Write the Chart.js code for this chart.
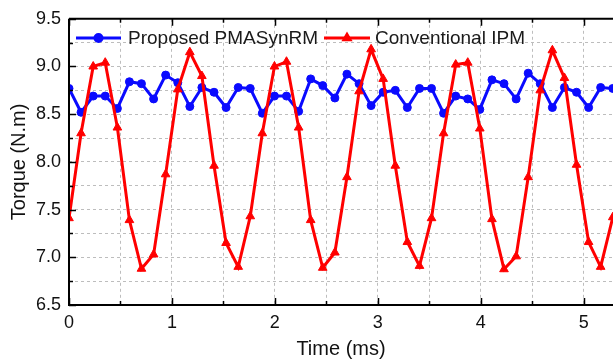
<!DOCTYPE html>
<html>
<head>
<meta charset="utf-8">
<script src="https://cdn.jsdelivr.net/npm/chart.js@4/dist/chart.umd.min.js"></script>
<style>
html,body{margin:0;padding:0;background:#fff;}
#wrap{width:613px;height:362px;}
</style>
</head>
<body>
<div id="wrap"><canvas id="c" width="613" height="362"></canvas></div>
<script>
const timeMs = [0, 0.117, 0.235, 0.352, 0.470, 0.587, 0.704, 0.822, 0.939, 1.057,
  1.174, 1.291, 1.409, 1.526, 1.644, 1.761, 1.878, 1.996, 2.113, 2.231,
  2.348, 2.465, 2.583, 2.700, 2.818, 2.935, 3.052, 3.170, 3.287, 3.405,
  3.522, 3.639, 3.757, 3.874, 3.991, 4.109, 4.226, 4.344, 4.461, 4.578,
  4.696, 4.813, 4.931, 5.048, 5.165, 5.283];
const pmasynrm = [8.77, 8.52, 8.69, 8.69, 8.56, 8.84, 8.82, 8.66, 8.91, 8.83,
  8.58, 8.78, 8.73, 8.57, 8.78, 8.77, 8.51, 8.69, 8.69, 8.53,
  8.87, 8.80, 8.67, 8.92, 8.82, 8.59, 8.73, 8.75, 8.57, 8.77,
  8.77, 8.51, 8.69, 8.66, 8.55, 8.86, 8.82, 8.66, 8.93, 8.82,
  8.57, 8.78, 8.73, 8.57, 8.78, 8.77];
const ipm = [7.41, 8.30, 9.00, 9.04, 8.36, 7.39, 6.88, 7.03, 7.87, 8.76,
  9.15, 8.90, 7.96, 7.15, 6.90, 7.43, 8.30, 9.00, 9.05, 8.36,
  7.39, 6.89, 7.05, 7.84, 8.74, 9.18, 8.87, 7.96, 7.16, 6.91,
  7.41, 8.30, 9.02, 9.04, 8.35, 7.40, 6.875, 7.01, 7.84, 8.75,
  9.17, 8.88, 7.97, 7.16, 6.90, 7.42];
const seriesNames = ['Proposed PMASynRM', 'Conventional IPM'];
const xTickValues = [0, 0.5, 1, 1.5, 2, 2.5, 3, 3.5, 4, 4.5, 5];
const yTickValues = [6.5, 6.75, 7.0, 7.25, 7.5, 7.75, 8.0, 8.25, 8.5, 8.75, 9.0, 9.25, 9.5];

const FONT = 'Liberation Sans, Arial, Helvetica, sans-serif';
const BLUE = '#0a0aff';
const RED = '#ff0000';

const toPts = (ys) => timeMs.map((t, i) => ({x: t, y: ys[i]}));

const framePlugin = {
  id: 'frame',
  afterDraw(chart) {
    const ctx = chart.ctx, a = chart.chartArea;
    const xs = chart.scales.x, ys = chart.scales.y;
    ctx.save();
    ctx.strokeStyle = '#000';
    ctx.lineWidth = 2;
    ctx.beginPath();
    ctx.moveTo(a.left, a.top); ctx.lineTo(chart.width + 2, a.top);
    ctx.moveTo(a.left, a.top); ctx.lineTo(a.left, a.bottom);
    ctx.moveTo(a.left - 1, a.bottom); ctx.lineTo(chart.width + 2, a.bottom);
    ctx.stroke();
    ctx.lineWidth = 1.5;
    ctx.beginPath();
    xTickValues.forEach(v => {
      const px = Math.round(xs.getPixelForValue(v)) + 0.5;
      const len = Number.isInteger(v) ? 7 : 4;
      ctx.moveTo(px, a.bottom); ctx.lineTo(px, a.bottom - len);
      ctx.moveTo(px, a.top); ctx.lineTo(px, a.top + len);
    });
    yTickValues.forEach(v => {
      const py = Math.round(ys.getPixelForValue(v)) + 0.5;
      const len = (Math.abs(v * 2 - Math.round(v * 2)) < 1e-6) ? 7 : 4;
      ctx.moveTo(a.left, py); ctx.lineTo(a.left + len, py);
    });
    ctx.stroke();
    const items = [
      {ds: 0, x1: 76, x2: 121, tx: 128, style: 'circle'},
      {ds: 1, x1: 324, x2: 370, tx: 375, style: 'triangle'}
    ];
    const ly = 38;
    ctx.font = '19px ' + FONT;
    ctx.textBaseline = 'middle';
    ctx.textAlign = 'left';
    items.forEach(it => {
      const d = chart.data.datasets[it.ds];
      ctx.strokeStyle = d.borderColor;
      ctx.lineWidth = 3;
      ctx.beginPath(); ctx.moveTo(it.x1, ly); ctx.lineTo(it.x2, ly); ctx.stroke();
      ctx.fillStyle = d.borderColor;
      Chart.helpers.drawPoint(ctx, {pointStyle: it.style, radius: 3.5, borderWidth: 1, rotation: 0}, (it.x1 + it.x2) / 2, ly);
      ctx.fill();
      ctx.fillStyle = '#1a1a1a';
      ctx.fillText(seriesNames[it.ds], it.tx, ly + 1);
    });
    ctx.restore();
  }
};

new Chart(document.getElementById('c'), {
  type: 'line',
  data: {
    datasets: [
      {
        label: seriesNames[0], data: toPts(pmasynrm),
        borderColor: BLUE, backgroundColor: BLUE,
        borderWidth: 3, pointStyle: 'circle', pointRadius: 4,
        pointBorderWidth: 1, order: 1, tension: 0
      },
      {
        label: seriesNames[1], data: toPts(ipm),
        borderColor: RED, backgroundColor: RED,
        borderWidth: 3, pointStyle: 'triangle', pointRadius: 5,
        pointBorderWidth: 1, order: 0, tension: 0
      }
    ]
  },
  options: {
    responsive: false,
    animation: false,
    devicePixelRatio: 1,
    layout: {autoPadding: false, padding: {top: 17, right: 0, left: 0, bottom: 0}},
    plugins: {legend: {display: false}, tooltip: {enabled: false}},
    scales: {
      x: {
        type: 'linear', min: 0, max: 5.285,
        afterBuildTicks: (s) => { s.ticks = xTickValues.map(v => ({value: v})); },
        afterFit: (s) => { s.height = 57; s.paddingRight = 0; s.paddingLeft = 0; },
        border: {display: false, dash: [3, 3]},
        grid: {color: '#bdbdbd', lineWidth: 1, drawTicks: false, tickLength: 0},
        ticks: {
          color: '#111', font: {family: FONT, size: 18}, padding: 7,
          maxRotation: 0, autoSkip: false,
          callback: (v) => Number.isInteger(v) ? String(v) : ''
        },
        title: {display: true, text: 'Time (ms)', color: '#111',
          font: {family: FONT, size: 20}, padding: {top: 0, bottom: 1}}
      },
      y: {
        type: 'linear', min: 6.5, max: 9.5,
        afterBuildTicks: (s) => { s.ticks = yTickValues.map(v => ({value: v})); },
        afterFit: (s) => { s.width = 69; },
        border: {display: false, dash: [3, 3]},
        grid: {color: '#bdbdbd', lineWidth: 1, drawTicks: false, tickLength: 0},
        ticks: {
          color: '#111', font: {family: FONT, size: 18}, padding: 8,
          autoSkip: false,
          callback: (v) => (Math.abs(v * 2 - Math.round(v * 2)) < 1e-6) ? v.toFixed(1) : ''
        },
        title: {display: true, text: 'Torque (N.m)', color: '#111',
          font: {family: FONT, size: 20}, padding: {top: 7, bottom: 0}}
      }
    }
  },
  plugins: [framePlugin]
});
</script>
</body>
</html>
